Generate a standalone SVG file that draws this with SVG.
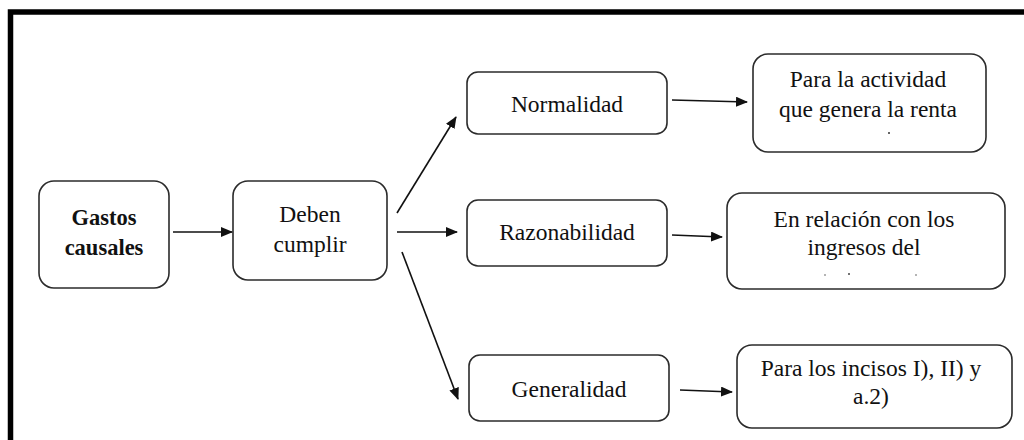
<svg xmlns="http://www.w3.org/2000/svg" width="1024" height="440" viewBox="0 0 1024 440">
  <style>
    .box { fill: #ffffff; stroke: #2b2b2b; stroke-width: 1.6; }
    .lbl { font-family: "Liberation Serif", "Tinos", "Nimbus Roman", "FreeSerif", "Noto Serif", "DejaVu Serif", serif; font-size: 23.5px; fill: #111; text-anchor: middle; }
    .bold { font-weight: bold; font-size: 22.5px; }
    .link { stroke: #111; stroke-width: 1.6; fill: none; marker-end: url(#head); }
  </style>
  <defs>
    <marker id="head" viewBox="0 0 12 10" refX="11" refY="5" markerWidth="12" markerHeight="10" markerUnits="userSpaceOnUse" orient="auto">
      <path d="M0,0 L12,5 L0,10 Z" fill="#111"/>
    </marker>
  </defs>

  <rect width="1024" height="440" fill="#ffffff"/>
  <!-- outer frame -->
  <rect x="10.5" y="12" width="1030" height="450" fill="none" stroke="#000" stroke-width="5.5"/>

  <g id="node-gastos">
    <rect class="box" x="39" y="181" width="130" height="107" rx="15"/>
    <text class="lbl bold" x="104" y="225">Gastos</text>
    <text class="lbl bold" x="104" y="255">causales</text>
  </g>
  <g id="node-deben">
    <rect class="box" x="233" y="181" width="154" height="99" rx="15"/>
    <text class="lbl" x="310" y="222">Deben</text>
    <text class="lbl" x="310" y="252">cumplir</text>
  </g>
  <g id="node-normalidad">
    <rect class="box" x="467" y="72" width="200" height="62" rx="11"/>
    <text class="lbl" x="567" y="112">Normalidad</text>
  </g>
  <g id="node-razonabilidad">
    <rect class="box" x="467" y="200" width="200" height="66" rx="11"/>
    <text class="lbl" x="567" y="240">Razonabilidad</text>
  </g>
  <g id="node-generalidad">
    <rect class="box" x="469" y="355" width="200" height="66" rx="11"/>
    <text class="lbl" x="569" y="397">Generalidad</text>
  </g>
  <g id="node-actividad">
    <rect class="box" x="753" y="54" width="233" height="98" rx="15"/>
    <text class="lbl" x="868" y="87">Para la actividad</text>
    <text class="lbl" x="868" y="117">que genera la renta</text>
    <circle cx="889" cy="133" r="1" fill="#333"/>
  </g>
  <g id="node-ingresos">
    <rect class="box" x="727" y="193" width="278" height="96" rx="15"/>
    <text class="lbl" x="864" y="227">En relación con los</text>
    <text class="lbl" x="864" y="255">ingresos del</text>
    <circle cx="825" cy="275" r="0.8" fill="#555"/>
    <circle cx="849" cy="274" r="1" fill="#444"/>
    <circle cx="916" cy="275" r="0.8" fill="#555"/>
  </g>
  <g id="node-incisos">
    <rect class="box" x="737" y="345" width="275" height="83" rx="15"/>
    <text class="lbl" x="871" y="376">Para los incisos I), II) y</text>
    <text class="lbl" x="871" y="404">a.2)</text>
  </g>

  <g id="connectors">
    <line class="link" x1="173" y1="232" x2="232" y2="232"/>
    <line class="link" x1="397" y1="213" x2="456" y2="117"/>
    <line class="link" x1="397" y1="232" x2="457" y2="232"/>
    <line class="link" x1="402" y1="252" x2="458" y2="399"/>
    <line class="link" x1="672" y1="100" x2="747" y2="102"/>
    <line class="link" x1="672" y1="235" x2="722" y2="237"/>
    <line class="link" x1="680" y1="390" x2="732" y2="392"/>
  </g>
</svg>
